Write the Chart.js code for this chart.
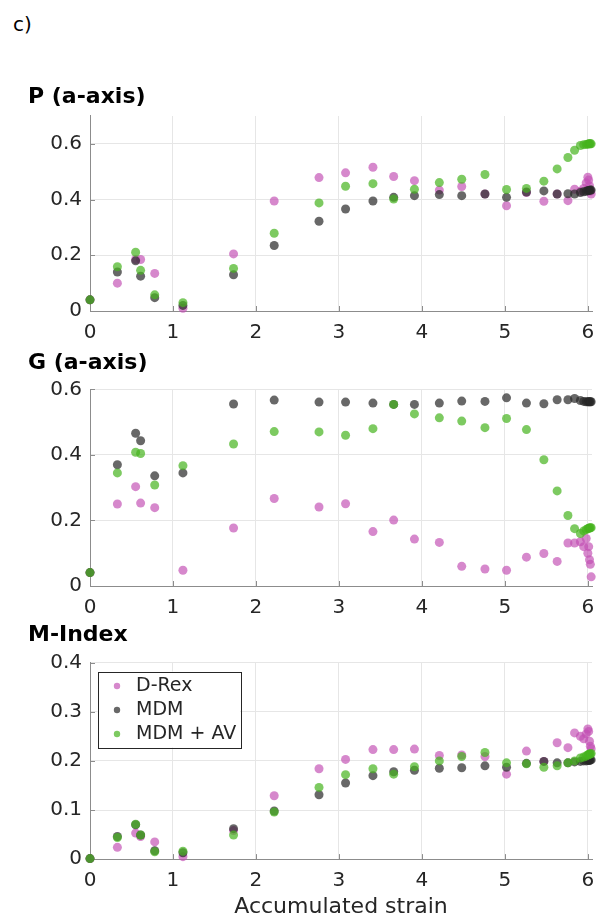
<!DOCTYPE html>
<html>
<head>
<meta charset="utf-8">
<script src="https://cdn.jsdelivr.net/npm/chart.js@4.4.0/dist/chart.umd.min.js"></script>
<style>
    html, body { margin: 0; padding: 0; background: #fff; }
    #wrap { position: relative; width: 597px; height: 922px; overflow: hidden; }
    #wrap canvas { position: absolute; left: 0; }
    #tag { position: absolute; left: 13px; top: 12px; font: 20px 'DejaVu Sans'; color: #000; }
</style>
</head>
<body>
<div id="wrap">
    <div id="tag">c)</div>
    <canvas id="cP" style="top:80px" width="597" height="275"></canvas>
    <canvas id="cG" style="top:345px" width="597" height="285"></canvas>
    <canvas id="cM" style="top:620px" width="597" height="302"></canvas>
</div>
<script>
// accumulated strain (shared by all three models)
const strain = [0, 0.33, 0.55, 0.61, 0.78, 1.12, 1.73, 2.22, 2.76, 3.08, 3.41, 3.66, 3.91, 4.21, 4.48,
    4.76, 5.02, 5.26, 5.47, 5.63, 5.76, 5.84, 5.91, 5.95, 5.98, 6.0, 6.01, 6.02, 6.03, 6.04];

// P (a-axis)
const pDrex = [0.04, 0.10, 0.185, 0.185, 0.135, 0.01, 0.205, 0.395, 0.479, 0.496, 0.516, 0.483, 0.468, 0.434, 0.447,
    0.42, 0.378, 0.425, 0.394, 0.42, 0.396, 0.437, 0.43, 0.44, 0.46, 0.48, 0.47, 0.45, 0.43, 0.42];
const pMdm = [0.04, 0.14, 0.18, 0.125, 0.048, 0.02, 0.13, 0.235, 0.322, 0.366, 0.395, 0.408, 0.414, 0.418, 0.414,
    0.42, 0.408, 0.427, 0.431, 0.42, 0.421, 0.42, 0.425, 0.428, 0.43, 0.432, 0.433, 0.433, 0.434, 0.434];
const pAv = [0.04, 0.159, 0.211, 0.146, 0.058, 0.03, 0.153, 0.279, 0.388, 0.448, 0.457, 0.402, 0.437, 0.461, 0.473,
    0.49, 0.436, 0.44, 0.466, 0.51, 0.551, 0.577, 0.594, 0.597, 0.598, 0.599, 0.6, 0.6, 0.6, 0.6];

// G (a-axis)
const gDrex = [0.041, 0.25, 0.303, 0.253, 0.239, 0.048, 0.177, 0.267, 0.241, 0.251, 0.166, 0.201, 0.143, 0.133, 0.06,
    0.052, 0.048, 0.088, 0.099, 0.075, 0.131, 0.131, 0.135, 0.12, 0.145, 0.1, 0.12, 0.08, 0.066, 0.028];
const gMdm = [0.041, 0.37, 0.466, 0.443, 0.336, 0.345, 0.555, 0.567, 0.561, 0.561, 0.558, 0.554, 0.554, 0.558, 0.564,
    0.563, 0.574, 0.558, 0.556, 0.568, 0.568, 0.572, 0.566, 0.563, 0.562, 0.562, 0.562, 0.562, 0.562, 0.562];
const gAv = [0.041, 0.345, 0.408, 0.404, 0.308, 0.367, 0.433, 0.471, 0.47, 0.46, 0.48, 0.554, 0.525, 0.513, 0.503,
    0.483, 0.511, 0.477, 0.385, 0.29, 0.215, 0.175, 0.16, 0.168, 0.172, 0.175, 0.176, 0.177, 0.178, 0.178];

// M-Index
const mDrex = [0.001, 0.024, 0.053, 0.046, 0.035, 0.005, 0.058, 0.129, 0.184, 0.203, 0.223, 0.223, 0.224, 0.211, 0.212,
    0.209, 0.173, 0.22, 0.199, 0.237, 0.227, 0.257, 0.25, 0.245, 0.255, 0.265, 0.26, 0.24, 0.23, 0.225];
const mMdm = [0.001, 0.046, 0.07, 0.049, 0.017, 0.013, 0.062, 0.098, 0.131, 0.155, 0.17, 0.178, 0.181, 0.185, 0.186,
    0.19, 0.187, 0.195, 0.199, 0.196, 0.196, 0.198, 0.199, 0.2, 0.2, 0.201, 0.201, 0.201, 0.202, 0.202];
const mAv = [0.001, 0.044, 0.071, 0.049, 0.015, 0.016, 0.049, 0.096, 0.146, 0.172, 0.184, 0.173, 0.188, 0.2, 0.209,
    0.217, 0.196, 0.194, 0.187, 0.19, 0.196, 0.2, 0.206, 0.208, 0.21, 0.212, 0.213, 0.214, 0.214, 0.215];

const seriesNames = ['D-Rex', 'MDM', 'MDM + AV'];
const seriesColors = ['rgba(195, 80, 180, 0.68)', 'rgba(40, 40, 40, 0.7)', 'rgba(70, 180, 30, 0.7)'];
const xTicks = { min: 0, max: 6.05, step: 1 };

Chart.defaults.font.family = "'DejaVu Sans'";
Chart.defaults.color = '#262626';

const toPoints = (ys) => ys.map((y, i) => ({ x: strain[i], y: y }));

// moves the legend into the upper left corner and gives it a white box with a frame
const legendBox = {
    id: 'legendBox',
    afterLayout(chart) {
        const lg = chart.legend;
        if (!lg || !chart.options.plugins.legend.display) return;
        const w = lg.width, h = lg.height;
        lg.left = chart.chartArea.left + 12.5;
        lg.top = chart.chartArea.top + 8.8;
        lg.right = lg.left + w;
        lg.bottom = lg.top + h;
    },
    beforeDatasetsDraw(chart) {
        // small inward tick marks, matlab style
        const ctx = chart.ctx;
        const { x, y } = chart.scales;
        ctx.save();
        ctx.strokeStyle = '#8c8c8c';
        ctx.lineWidth = 1;
        ctx.beginPath();
        x.ticks.forEach(t => {
            const px = Math.round(x.getPixelForValue(t.value)) + 0.5;
            ctx.moveTo(px, y.bottom);
            ctx.lineTo(px, y.bottom - 5);
        });
        y.ticks.forEach(t => {
            const py = Math.round(y.getPixelForValue(t.value)) + 0.5;
            ctx.moveTo(x.left, py);
            ctx.lineTo(x.left + 5, py);
        });
        ctx.stroke();
        ctx.restore();

        const lg = chart.legend;
        if (!lg || !chart.options.plugins.legend.display || !lg.legendHitBoxes.length) return;
        const hb = lg.legendHitBoxes;
        const left = hb[0].left - 10;
        const top = hb[0].top - 5;
        const right = Math.max(...hb.map(b => b.left + b.width)) + 4;
        const last = hb[hb.length - 1];
        const bottom = last.top + last.height + 4;
        ctx.save();
        ctx.fillStyle = '#fff';
        ctx.fillRect(left, top, right - left, bottom - top);
        ctx.strokeStyle = '#262626';
        ctx.lineWidth = 1;
        ctx.strokeRect(Math.round(left) + 0.5, Math.round(top) + 0.5, Math.round(right - left), Math.round(bottom - top));
        ctx.restore();
        lg.draw();
    }
};

function makePanel(canvasId, title, values, yMax, yStep, layout) {
    const datasets = values.map((ys, i) => ({
        label: seriesNames[i],
        data: toPoints(ys),
        backgroundColor: seriesColors[i],
        borderWidth: 0,
        pointRadius: 4.5,
        pointHoverRadius: 4.5,
        clip: false,
        order: 3 - i
    }));

    return new Chart(document.getElementById(canvasId), {
        type: 'scatter',
        data: { datasets: datasets },
        options: {
            responsive: false,
            animation: false,
            layout: {
                padding: { left: 28, right: 5, top: layout.top, bottom: 0 }
            },
            plugins: {
                title: {
                    display: true,
                    text: title,
                    align: 'start',
                    color: '#000',
                    font: { size: 22, weight: 'bold' },
                    padding: { top: 0, bottom: layout.titleGap }
                },
                legend: {
                    display: !!layout.legend,
                    position: 'chartArea',
                    align: 'start',
                    labels: {
                        usePointStyle: true,
                        pointStyle: 'circle',
                        boxWidth: 19,
                        boxHeight: 4.5,
                        padding: 5,
                        color: '#262626',
                        font: { size: 19 },
                        sort: (a, b) => a.datasetIndex - b.datasetIndex
                    }
                },
                tooltip: { enabled: false }
            },
            scales: {
                x: {
                    type: 'linear',
                    min: xTicks.min,
                    max: xTicks.max,
                    ticks: { stepSize: xTicks.step, includeBounds: false, padding: 10, font: { size: 20 }, maxRotation: 0 },
                    grid: { color: '#e6e6e6', drawTicks: false },
                    border: { color: '#8c8c8c', width: 1 },
                    title: {
                        display: !!layout.xTitle,
                        text: 'Accumulated strain',
                        color: '#262626',
                        font: { size: 22 },
                        padding: { top: -9.5, bottom: 2 }
                    },
                    afterFit: (scale) => { scale.paddingLeft = 0; scale.paddingRight = 0; }
                },
                y: {
                    min: 0,
                    max: yMax,
                    ticks: { stepSize: yStep, includeBounds: false, padding: 8, font: { size: 20 } },
                    grid: { color: '#e6e6e6', drawTicks: false },
                    border: { color: '#8c8c8c', width: 1 },
                    afterFit: (scale) => { scale.width = 62; }
                }
            }
        },
        plugins: [legendBox]
    });
}

makePanel('cP', 'P (a-axis)', [pDrex, pMdm, pAv], 0.7, 0.2, { top: 3.8, titleGap: 5.8 });
makePanel('cG', 'G (a-axis)', [gDrex, gMdm, gAv], 0.6, 0.2, { top: 5.1, titleGap: 12.8 });
makePanel('cM', 'M-Index', [mDrex, mMdm, mAv], 0.4, 0.1, { top: 1.8, titleGap: 14.5, legend: true, xTitle: true });
</script>
</body>
</html>
